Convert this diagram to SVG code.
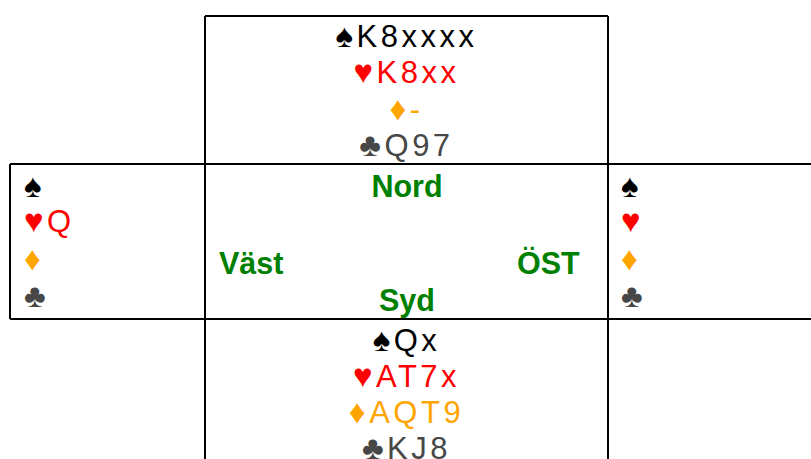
<svg xmlns="http://www.w3.org/2000/svg" width="811" height="459" viewBox="0 0 811 459">
<style>
.ln{stroke:#000;stroke-width:2;fill:none}
.c{font-family:"Liberation Sans",Arial,sans-serif;font-size:31px;letter-spacing:3.5px}
.m{text-anchor:middle}
.u{font-size:33px}
.s{fill:#000}.h{fill:#ff0000}.d{fill:#ffa500}.k{fill:#474747}
.lbl{font-family:"Liberation Sans",Arial,sans-serif;font-size:30.5px;font-weight:bold;fill:#008000}
</style>
<rect width="811" height="459" fill="#fff"/>
<g id="connectors">
<path class="ln" d="M205,16 H608 M205,16 V459 M608,16 V459 M10,164 H811 M10,319 H811 M10,164 V319"/>
</g>
<g id="north">
<text class="c m s" x="406.5" y="46.5"><tspan class="u">♠</tspan>K8xxxx</text>
<text class="c m h" x="406.5" y="83"><tspan class="u">♥</tspan>K8xx</text>
<text class="c m d" x="406.5" y="119.5"><tspan class="u">♦</tspan>-</text>
<text class="c m k" x="406.5" y="156"><tspan class="u">♣</tspan>Q97</text>
</g>
<g id="west">
<text class="c s" x="24" y="197"><tspan class="u">♠</tspan></text>
<text class="c h" x="24" y="232"><tspan class="u">♥</tspan>Q</text>
<text class="c d" x="24" y="269.5"><tspan class="u">♦</tspan></text>
<text class="c k" x="24" y="307"><tspan class="u">♣</tspan></text>
</g>
<g id="east">
<text class="c s" x="621" y="197"><tspan class="u">♠</tspan></text>
<text class="c h" x="621" y="232"><tspan class="u">♥</tspan></text>
<text class="c d" x="621" y="269.5"><tspan class="u">♦</tspan></text>
<text class="c k" x="621" y="307"><tspan class="u">♣</tspan></text>
</g>
<g id="center">
<text class="lbl m" x="407" y="197">Nord</text>
<text class="lbl" x="219" y="274">Väst</text>
<text class="lbl" x="517" y="273.5">ÖST</text>
<text class="lbl m" x="407" y="311">Syd</text>
</g>
<g id="south">
<text class="c m s" x="406.5" y="351"><tspan class="u">♠</tspan>Qx</text>
<text class="c m h" x="406.5" y="387"><tspan class="u">♥</tspan>AT7x</text>
<text class="c m d" x="406.5" y="423"><tspan class="u">♦</tspan>AQT9</text>
<text class="c m k" x="406.5" y="459"><tspan class="u">♣</tspan>KJ8</text>
</g>
</svg>
